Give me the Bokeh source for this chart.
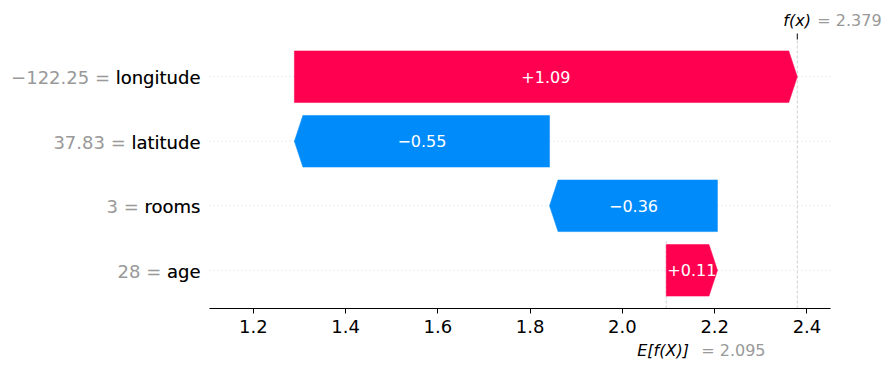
from bokeh.plotting import figure
from bokeh.layouts import column
from bokeh.models import (Range1d, FixedTicker, PrintfTickFormatter,
                          ColumnDataSource)
from bokeh.core.properties import value
from bokeh.embed import file_html
from bokeh.resources import INLINE

# ---- data (top row first) ----
features = ["longitude", "latitude", "rooms", "age"]
feature_values = ["\u2212122.25", "37.83", "3", "28"]
shap_values = [1.090, -0.553, -0.364, 0.111]
base_value = 2.095
x_ticks = [1.2, 1.4, 1.6, 1.8, 2.0, 2.2, 2.4]

# ---- layout / style ----
W = 885                 # page width
AX_L, AX_R = 209, 830   # pixel extent of the x axis
AX_T, AX_B = 39, 308    # pixel extent of the plotting area (top, axis line)
P_BOTTOM = 33           # room under the axis line for ticks / tick labels
B_H = 24                # strip holding the E[f(X)] label
XMIN, XMAX = 1.105, 2.451
YMIN, YMAX = -0.592, 3.577
BAR_H = 0.8
HEAD_PX = 8.5
RED, BLUE = "#ff0051", "#008bfb"
GREY = "#999999"
FONT = value("DejaVu Sans")

n = len(features)
fx = base_value + sum(shap_values)

px_x = (AX_R - AX_L) / (XMAX - XMIN)
px_y = (AX_B - AX_T) / (YMAX - YMIN)
XL = XMIN - AX_L / px_x
XR = XL + W / px_x
YT = YMAX + AX_T / px_y
head = HEAD_PX / px_x

p = figure(width=W, height=AX_B + P_BOTTOM, x_range=Range1d(XL, XR),
           y_range=Range1d(YMIN, YT), output_backend="svg",
           toolbar_location=None, y_axis_location=None,
           min_border_left=0, min_border_right=0,
           min_border_top=0, min_border_bottom=P_BOTTOM)
p.outline_line_color = None
p.grid.visible = False

rows_y = [n - 1 - i for i in range(n)]

# dotted row lines across the axis span
p.segment(x0=[XMIN] * n, y0=rows_y, x1=[XMAX] * n, y1=rows_y,
          line_color="#cccccc", line_width=0.7, line_dash="1 3")

# f(x) full-height dashed line, base-value partial dashed line
p.segment(x0=[fx, base_value], y0=[YMIN, YMIN], x1=[fx, base_value],
          y1=[YMAX, YMIN + (YMAX - YMIN) / n], line_color="#bbbbbb",
          line_width=0.7, line_dash="3 2")

# f(x) tick mark above the plotting area
p.segment(x0=[fx], y0=[YMAX], x1=[fx], y1=[YMAX + 6 / px_y],
          line_color="black", line_width=1)

# waterfall bars (bottom row starts at the base value)
xs, ys, colors = [], [], []
lx, ly, ltxt = [], [], []
pos = base_value
for i in reversed(range(n)):
    y = n - 1 - i
    v = shap_values[i]
    s, e = pos, pos + v
    hl = min(head, abs(v))
    if v >= 0:
        xs.append([s, e - hl, e, e - hl, s])
        colors.append(RED)
    else:
        xs.append([s, e + hl, e, e + hl, s])
        colors.append(BLUE)
    ys.append([y - BAR_H / 2, y - BAR_H / 2, y, y + BAR_H / 2, y + BAR_H / 2])
    lx.append((s + e) / 2)
    ly.append(y)
    ltxt.append(f"{v:+.2f}".replace("-", "\u2212"))
    pos = e

p.patches(xs=xs, ys=ys, fill_color=colors, line_color=colors, line_width=0.5)

p.text(x=lx, y=ly, text=ltxt, text_color="white", text_font=FONT,
       text_font_size="16px", text_align="center", text_baseline="middle")

# row labels: grey "value = name" underneath, black name on top
row_src = ColumnDataSource(dict(
    x=[XMIN] * n,
    y=rows_y,
    full=[f"{feature_values[i]} = {features[i]}" for i in range(n)],
    name=features,
))
p.text(x="x", y="y", text="full", source=row_src, x_offset=-9, y_offset=1,
       text_align="right", text_baseline="middle", text_color=GREY,
       text_font=FONT, text_font_size="18px")
p.text(x="x", y="y", text="name", source=row_src, x_offset=-9, y_offset=1,
       text_align="right", text_baseline="middle", text_color="black",
       text_font=FONT, text_font_size="18px")

# f(x) label above the plotting area
p.text(x=[fx], y=[YMAX], text=["f(x)"], x_offset=-14, y_offset=-19.5,
       text_font=FONT, text_font_style="italic", text_font_size="16px",
       text_color="black", text_align="left", text_baseline="alphabetic")
p.text(x=[fx], y=[YMAX], text=[f"= {fx:.3f}"], x_offset=20, y_offset=-19.5,
       text_font=FONT, text_font_size="16px", text_color=GREY,
       text_align="left", text_baseline="alphabetic")

# bottom axis
ax = p.xaxis[0]
ax.bounds = (XMIN, XMAX)
ax.ticker = FixedTicker(ticks=x_ticks)
ax.formatter = PrintfTickFormatter(format="%.1f")
ax.axis_line_color = "black"
ax.axis_line_width = 1.1
ax.major_tick_out = 5
ax.major_tick_in = 0
ax.major_tick_line_color = "black"
ax.minor_tick_line_color = None
ax.major_label_standoff = 6
ax.major_label_text_font = "DejaVu Sans"
ax.major_label_text_font_size = "18px"
ax.major_label_text_color = "black"

# strip under the axis holding the E[f(X)] label
b = figure(width=W, height=B_H, x_range=p.x_range, y_range=Range1d(0, 1),
           output_backend="svg", toolbar_location=None,
           x_axis_location=None, y_axis_location=None,
           min_border_left=0, min_border_right=0,
           min_border_top=0, min_border_bottom=0)
b.outline_line_color = None
b.grid.visible = False
b.text(x=[base_value], y=[0], text=["E[f(X)]"], x_offset=-29, y_offset=-15.5,
       text_font=FONT, text_font_style="italic", text_font_size="16px",
       text_color="black", text_align="left", text_baseline="alphabetic")
b.text(x=[base_value], y=[0], text=[f"= {base_value:.3f}"], x_offset=35,
       y_offset=-15.5, text_font=FONT, text_font_size="16px",
       text_color=GREY, text_align="left", text_baseline="alphabetic")

layout = column(p, b, spacing=0)
open("out.html", "w").write(file_html(layout, INLINE))
